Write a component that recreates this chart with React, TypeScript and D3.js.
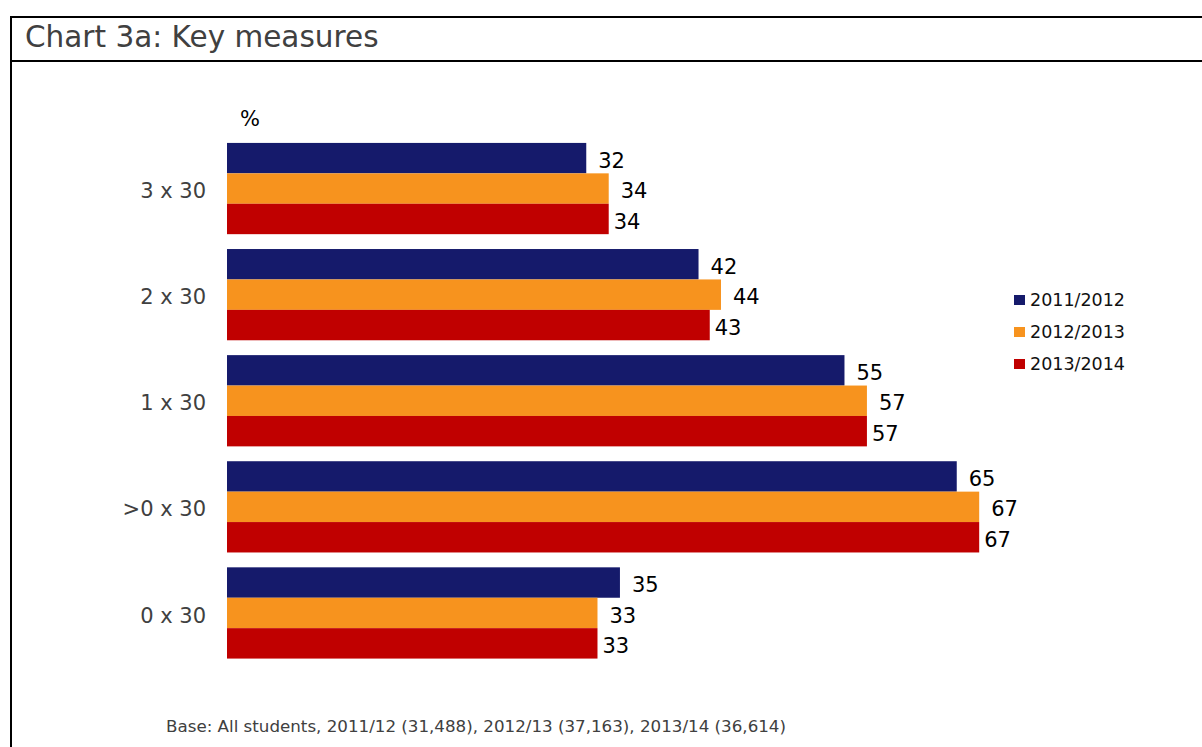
import React from "react";
import * as d3 from "d3";

const categories: string[] = ["3 x 30", "2 x 30", "1 x 30", ">0 x 30", "0 x 30"];
const seriesNames: string[] = ["2011/2012", "2012/2013", "2013/2014"];
const values2011: number[] = [32, 42, 55, 65, 35];
const values2012: number[] = [34, 44, 57, 67, 33];
const values2013: number[] = [34, 43, 57, 67, 33];
const seriesColors: string[] = ["#151a6b", "#f7931e", "#c00000"];
const labelOffsets: number[] = [12, 12, 5];

const title = "Chart 3a: Key measures";
const unitLabel = "%";
const footnote = "Base: All students, 2011/12 (31,488), 2012/13 (37,163), 2013/14 (36,614)";

const W = 1202;
const H = 747;
const FONT = "'DejaVu Sans', Verdana, sans-serif";

export default function App() {
  const seriesValues = [values2011, values2012, values2013];

  const x = d3.scaleLinear().domain([0, 67]).range([227, 979.2]);
  const y = d3
    .scaleBand<string>()
    .domain(categories)
    .range([135.5, 666])
    .paddingInner(0.14)
    .paddingOuter(0.07);
  const ySub = d3
    .scaleBand<string>()
    .domain(seriesNames)
    .range([0, y.bandwidth()])
    .padding(0);

  return (
    <svg
      width={W}
      height={H}
      style={{ position: "absolute", left: 0, top: 0, display: "block", background: "#fff" }}
    >
      {/* frame */}
      <line x1={11} y1={17} x2={W + 5} y2={17} stroke="#000" strokeWidth={2} />
      <line x1={11} y1={61} x2={W + 5} y2={61} stroke="#000" strokeWidth={2} />
      <line x1={11} y1={16} x2={11} y2={H + 5} stroke="#000" strokeWidth={2} />

      <text x={25} y={46.5} fontFamily={FONT} fontSize={29.5} fill="#404040">
        {title}
      </text>

      <text x={240} y={126} fontFamily={FONT} fontSize={21} fill="#000">
        {unitLabel}
      </text>

      {categories.map((cat, ci) => {
        const y0 = y(cat) as number;
        return (
          <g key={cat}>
            <text
              x={206}
              y={y0 + y.bandwidth() / 2 + 2}
              dy="0.36em"
              textAnchor="end"
              fontFamily={FONT}
              fontSize={21}
              fill="#404040"
            >
              {cat}
            </text>
            {seriesNames.map((s, si) => {
              const v = seriesValues[si][ci];
              const by = y0 + (ySub(s) as number);
              const bh = ySub.bandwidth();
              return (
                <g key={s}>
                  <rect
                    x={x(0)}
                    y={by}
                    width={x(v) - x(0)}
                    height={bh}
                    fill={seriesColors[si]}
                  />
                  <text
                    x={x(v) + labelOffsets[si]}
                    y={by + bh / 2 + 2}
                    dy="0.36em"
                    fontFamily={FONT}
                    fontSize={21}
                    fill="#000"
                  >
                    {v}
                  </text>
                </g>
              );
            })}
          </g>
        );
      })}

      {seriesNames.map((s, si) => {
        const cy = 300 + si * 32;
        return (
          <g key={s}>
            <rect x={1014} y={cy - 5} width={11} height={10} fill={seriesColors[si]} />
            <text
              x={1030}
              y={cy}
              dy="0.36em"
              fontFamily={FONT}
              fontSize={17.5}
              fill="#111"
            >
              {s}
            </text>
          </g>
        );
      })}

      <text
        x={166}
        y={732}
        fontFamily="'DejaVu Sans Condensed', 'DejaVu Sans', sans-serif"
        fontSize={15}
        fill="#404040"
        textLength={620}
        lengthAdjust="spacingAndGlyphs"
      >
        {footnote}
      </text>
    </svg>
  );
}
